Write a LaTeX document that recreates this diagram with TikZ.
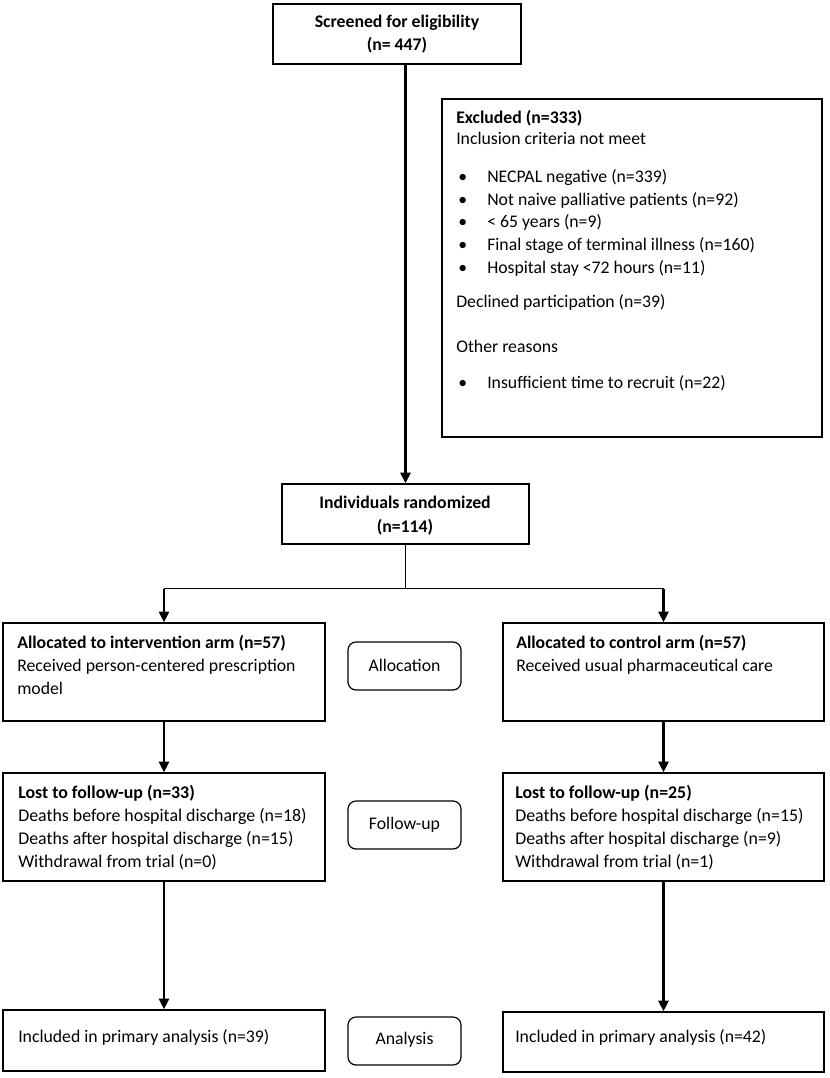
\documentclass[tikz,border=0pt]{standalone}
\usepackage{fontspec}
\setmainfont{Carlito}
\usetikzlibrary{arrows.meta,fit}
\begin{document}
\begin{tikzpicture}[x=0.75pt,y=-0.75pt,
 box/.style={draw, line width=1pt, inner sep=0pt},
 rbox/.style={draw, line width=0.9pt, rounded corners=6pt, inner sep=0pt},
 txt/.style={inner sep=0pt, anchor=base west, font=\fontsize{13.3}{15}\selectfont},
 ftxt/.style={inner sep=0pt, anchor=base west, font=\fontsize{13.4}{16}\selectfont},
 ctxt/.style={inner sep=0pt, anchor=base, font=\fontsize{13.3}{15}\selectfont},
 arr/.style={line width=1.9pt, -{Triangle[length=8pt,width=7.5pt]}},
 link/.style={line width=0.8pt}]
\useasboundingbox[fill=white] (0,0) rectangle (829,1078);
% boxes
\node[box, fit={(273,4)(521,64)}] (screen) {};
\node[box, fit={(442,99)(822,437)}] (excl) {};
\node[box, fit={(282,484)(529,544)}] (rand) {};
\node[box, fit={(3,623)(325,721)}] (allocL) {};
\node[box, fit={(503,623)(824,721)}] (allocR) {};
\node[rbox, fit={(348,642)(461,690)}] (allocLab) {};
\node[box, fit={(3,773)(325,881)}] (followL) {};
\node[box, fit={(503,773)(824,881)}] (followR) {};
\node[rbox, fit={(348,801)(461,849)}] (followLab) {};
\node[box, fit={(3,1010)(325,1071)}] (anaL) {};
\node[box, fit={(503,1012)(824,1072)}] (anaR) {};
\node[rbox, fit={(348,1017)(461,1065)}] (anaLab) {};
% texts
\node[ctxt] (s1) at (397,27) {\bfseries Screened for eligibility};
\node[ctxt] (s2) at (397,50) {\bfseries (n= 447)};
\node[txt] (e1) at (456,123) {\bfseries Excluded (n=333)};
\node[txt] (e2) at (456,144) {Inclusion criteria not meet};
\foreach \yy/\tt [count=\i] in {182/NECPAL negative (n=339), 205/Not naive palliative patients (n=92), 227/< 65 years (n=9), 250/Final stage of terminal illness (n=160), 273/Hospital stay <72 hours (n=11), 388/Insufficient time to recruit (n=22)}{
  \node[txt] (b\i) at (458,\yy) {•};
  \node[txt] (bt\i) at (487,\yy) {\tt};
}
\node[txt] (e3) at (456,307) {Declined participation (n=39)};
\node[txt] (e4) at (456,352) {Other reasons};
\node[ctxt] (r1) at (405,508) {\bfseries Individuals randomized};
\node[ctxt] (r2) at (405,532) {\bfseries (n=114)};
\node[txt] (al1) at (17,648) {\bfseries Allocated to intervention arm (n=57)};
\node[txt] (al2) at (17,671) {Received person-centered prescription};
\node[txt] (al3) at (17,694) {model};
\node[txt] (ar1) at (516,648) {\bfseries Allocated to control arm (n=57)};
\node[txt] (ar2) at (516,671) {Received usual pharmaceutical care};
\node[ctxt] (lab1) at (404.5,671) {Allocation};
\node[ftxt] (fl1) at (18,798) {\bfseries Lost to follow-up (n=33)};
\node[ftxt] (fl2) at (18,821) {Deaths before hospital discharge (n=18)};
\node[ftxt] (fl3) at (18,844) {Deaths after hospital discharge (n=15)};
\node[ftxt] (fl4) at (18,867) {Withdrawal from trial (n=0)};
\node[ftxt] (fr1) at (515,798) {\bfseries Lost to follow-up (n=25)};
\node[ftxt] (fr2) at (515,821) {Deaths before hospital discharge (n=15)};
\node[ftxt] (fr3) at (515,844) {Deaths after hospital discharge (n=9)};
\node[ftxt] (fr4) at (515,867) {Withdrawal from trial (n=1)};
\node[ctxt] (lab2) at (404.5,829) {Follow-up};
\node[txt] (nl) at (18,1042) {Included in primary analysis (n=39)};
\node[txt] (nr) at (515,1042) {Included in primary analysis (n=42)};
\node[ctxt] (lab3) at (404.5,1044) {Analysis};
% connectors
\draw[arr] (rand.north |- screen.south) -- (rand.north);
\draw[link] (rand.south) -- ++(0,44) coordinate (split);
\draw[link] (allocL.north |- split) -- (allocR.north |- split);
\draw[arr] (allocL.north |- split) -- (allocL.north);
\draw[arr] (allocR.north |- split) -- (allocR.north);
\draw[arr] (allocL.south) -- (followL.north);
\draw[arr] (allocR.south) -- (followR.north);
\draw[arr] (followL.south) -- (anaL.north);
\draw[arr] (followR.south) -- (anaR.north);
\end{tikzpicture}
\end{document}
